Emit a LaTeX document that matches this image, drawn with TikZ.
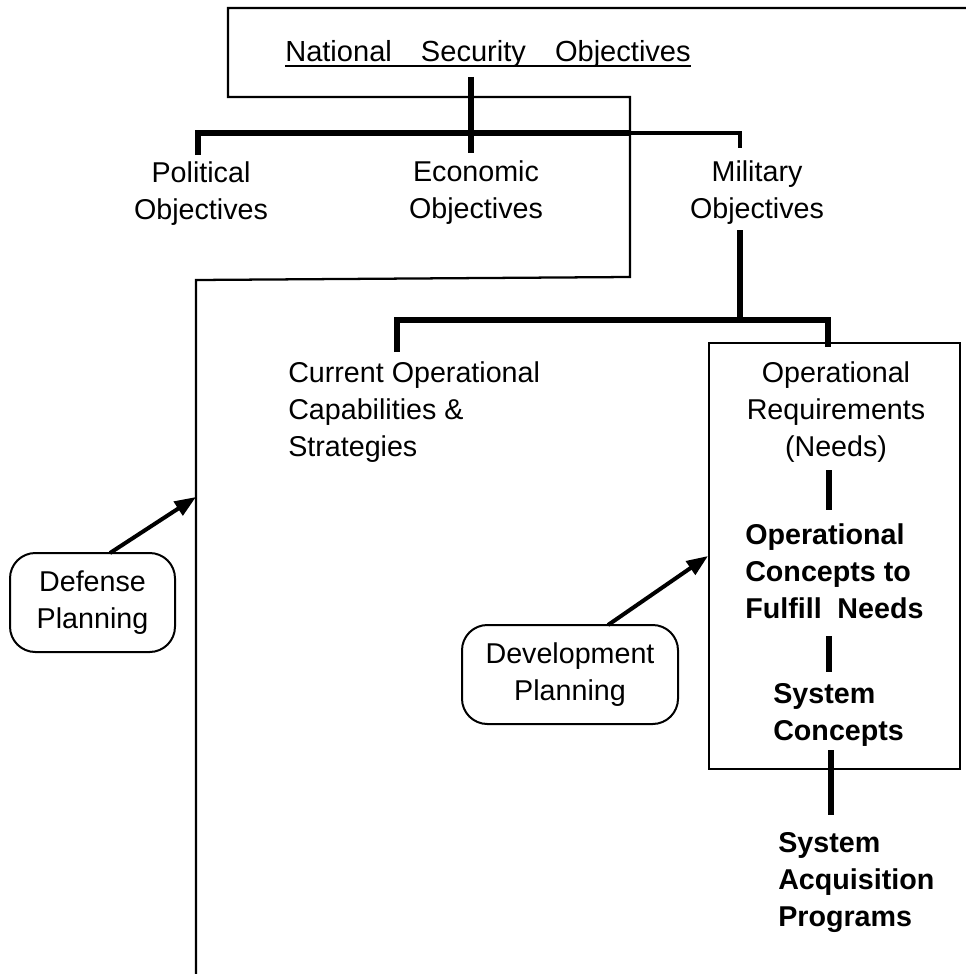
\documentclass[tikz,border=0pt]{standalone}
\usepackage{fontspec}
\setmainfont{Liberation Sans}
\usetikzlibrary{arrows.meta}
\begin{document}
\begin{tikzpicture}[x=0.75pt,y=-0.75pt,
  lbl/.style={font=\fontsize{21.5}{27.75}\selectfont, inner sep=0pt, align=center},
  lblb/.style={font=\fontsize{21.5}{27.75}\selectfont\bfseries, inner sep=0pt},
  thinline/.style={line width=1.7pt},
  thickline/.style={line width=3.8pt},
  midline/.style={line width=2.4pt},
  plan/.style={draw, line width=1.5pt, rounded corners=19pt, inner sep=0pt,
    font=\fontsize{21.5}{27.75}\selectfont, align=center},
  arr/.style={line width=3pt, -{Triangle[length=16pt,width=12pt]}}
]
\useasboundingbox (0,0) rectangle (966,974);

% outline of the planning regions
\coordinate (oA) at (966,8);
\coordinate (oB) at (228,8);
\coordinate (oC) at (228,97);
\coordinate (oD) at (630,97);
\coordinate (oE) at (630,277);
\coordinate (oF) at (196,280);
\coordinate (oG) at (196,974);
\draw[thinline] (oA) -- (oB) -- (oC) -- (oD) -- (oE) -- (oF) -- (oG);

% title
\node[lbl, font=\fontsize{21.8}{27.75}\selectfont, anchor=base] (nso) at (488,62) {National\hspace{1.0em}Security\hspace{1.0em}Objectives};
\draw[line width=1.6pt] ([yshift=-2.8pt]nso.base west) -- ([yshift=-2.8pt]nso.base east);

% second level
\node[lbl] (pol) at (201,193.5) {Political\\Objectives};
\node[lbl] (eco) at (476,193) {Economic\\Objectives};
\node[lbl] (mil) at (757,193) {Military\\Objectives};

% third level
\node[lbl, align=left, anchor=west] (cur) at (288,412.5) {Current Operational\\Capabilities \&\\Strategies};
\node[draw, thinline, inner sep=0pt, anchor=north west, minimum width=188.25pt, minimum height=319.5pt] (rbox) at (708,342) {};
\node[lbl] (req) at (836,412.5) {Operational\\Requirements\\(Needs)};
\node[lblb, align=left, anchor=west] (ocf) at (745,571) {Operational\\Concepts to\\Fulfill\hspace{0.55em}Needs};
\node[lblb, align=left, anchor=west] (sc) at (773,715) {System\\Concepts};
\node[lblb, align=left, anchor=west] (sap) at (778,883) {System\\Acquisition\\Programs};

% planning boxes
\node[plan, minimum width=123.75pt, minimum height=74.25pt] (dfp) at (92.5,602.5) {Defense\\Planning};
\node[plan, minimum width=162pt, minimum height=74.25pt] (dvp) at (570,674.5) {Development\\Planning};

% tree 1
\coordinate (n1) at (471,77);
\coordinate (n2) at (471,153);
\coordinate (h1) at (198,133);
\coordinate (h2) at (630,133);
\coordinate (h3) at (740,133);
\coordinate (p1) at (198,155);
\coordinate (m1) at (740,148);
\draw[thickline] (n1) -- (n2);
\draw[thickline] (p1) -- (h1) -- (h2);
\draw[midline] (h2) -- (h3) -- (m1);

% tree 2
\coordinate (m2) at (740,230);
\coordinate (m3) at (740,320);
\coordinate (c1) at (397,320);
\coordinate (c2) at (397,352);
\coordinate (r1) at (828,320);
\coordinate (r2) at (828,347);
\draw[thickline] (m2) -- (m3);
\draw[thickline] (c2) -- (c1) -- (r1) -- (r2);

% chain inside box
\coordinate (b1a) at (829,470);
\coordinate (b1b) at (829,510);
\coordinate (b2a) at (829,636);
\coordinate (b2b) at (829,672);
\coordinate (b3a) at (831,750);
\coordinate (b3b) at (831,815);
\draw[thickline] (b1a) -- (b1b);
\draw[thickline] (b2a) -- (b2b);
\draw[thickline] (b3a) -- (b3b);

% arrows
\coordinate (dfs) at (110,553);
\coordinate (dft) at (196,497);
\coordinate (dvs) at (608,625);
\coordinate (dvt) at (708,556);
\draw[arr] (dfs) -- (dft);
\draw[arr] (dvs) -- (dvt);
\end{tikzpicture}
\end{document}
